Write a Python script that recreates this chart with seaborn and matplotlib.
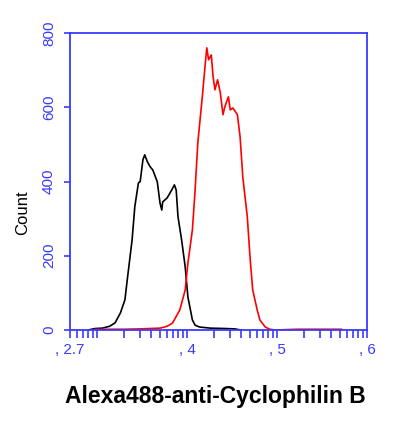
import numpy as np
import pandas as pd
import matplotlib
matplotlib.use('Agg')
import matplotlib.pyplot as plt
from matplotlib.ticker import FixedLocator, NullFormatter
import seaborn as sns

# log10 fluorescence channel and counts
ctrl_log = [2.90, 2.98, 3.06, 3.14, 3.20, 3.26, 3.31, 3.34, 3.39, 3.42, 3.46, 3.48,
            3.51, 3.53, 3.56, 3.59, 3.62, 3.67, 3.70, 3.72, 3.73, 3.78, 3.83, 3.86,
            3.88, 3.90, 3.94, 3.98, 4.01, 4.06, 4.09, 4.14, 4.26, 4.42, 4.53, 4.60]
ctrl_count = [0, 4, 5, 10, 19, 46, 81, 143, 243, 332, 396, 400,
              458, 472, 453, 440, 431, 399, 342, 323, 345, 356, 377, 391,
              377, 305, 243, 170, 89, 27, 13, 8, 5, 4, 3, 0]

stain_log = [2.98, 3.10, 3.31, 3.48, 3.70, 3.78, 3.84, 3.92, 3.98, 4.01, 4.06, 4.09,
             4.12, 4.17, 4.20, 4.22, 4.24, 4.27, 4.29, 4.31, 4.34, 4.37, 4.40, 4.42,
             4.46, 4.48, 4.51, 4.56, 4.59, 4.62, 4.67, 4.70, 4.73, 4.78, 4.81, 4.87,
             4.92, 4.98, 5.22, 5.72]
stain_count = [2, 2, 2, 3, 5, 10, 19, 54, 108, 180, 270, 377,
               504, 628, 709, 760, 728, 741, 682, 647, 674, 639, 580, 601,
               628, 593, 598, 580, 520, 412, 305, 197, 108, 54, 27, 8,
               2, 0, 2, 2]

xtick_log = [2.7, 4, 5, 6]
xtick_labels = [', 2.7', ', 4', ', 5', ', 6']
yticks = [0, 200, 400, 600, 800]

ctrl = pd.DataFrame({'fl': np.power(10.0, ctrl_log), 'count': ctrl_count})
stain = pd.DataFrame({'fl': np.power(10.0, stain_log), 'count': stain_count})

sns.set_style('white')
plt.rcParams['font.family'] = ['Liberation Sans', 'DejaVu Sans']

blue = '#3a3aff'
fig = plt.figure(figsize=(3.99, 4.30), dpi=100)
ax = fig.add_axes([70/399, 1 - 330/430, 297/399, 297/430])

sns.lineplot(data=ctrl, x='fl', y='count', color='black', lw=1.2, ax=ax)
sns.lineplot(data=stain, x='fl', y='count', color='#ff0000', lw=1.2, ax=ax)

ax.set_xscale('log')
ax.set_xlim(10**2.7, 1e6)
ax.set_ylim(0, 800)

ax.xaxis.set_major_locator(FixedLocator([10**v for v in xtick_log]))
ax.set_xticklabels(xtick_labels)
minors = [m * 10**d for d in range(2, 6) for m in range(1, 10)]
minors = [m for m in minors if 10**2.72 < m < 1e6]
ax.xaxis.set_minor_locator(FixedLocator(minors))
ax.xaxis.set_minor_formatter(NullFormatter())

ax.set_yticks(yticks)
ax.set_yticklabels([str(v) for v in yticks], rotation=90, va='center')

for s in ax.spines.values():
    s.set_color(blue)
    s.set_linewidth(1.3)

ax.tick_params(axis='x', which='both', direction='out', length=6, width=1.2,
               color=blue, labelcolor=blue, labelsize=11, pad=3, bottom=True)
ax.tick_params(axis='y', direction='out', length=4, width=1.2,
               color=blue, labelcolor=blue, labelsize=11, pad=6, left=True)

ax.set_ylabel('Count', fontsize=12, color='black')
ax.yaxis.set_label_coords(-0.135, 0.394)
ax.set_xlabel('Alexa488-anti-Cyclophilin B', fontsize=16.5, fontweight='bold',
              color='black')
ax.xaxis.set_label_coords(0.49, -0.185)

fig.savefig('out.png', dpi=100)
